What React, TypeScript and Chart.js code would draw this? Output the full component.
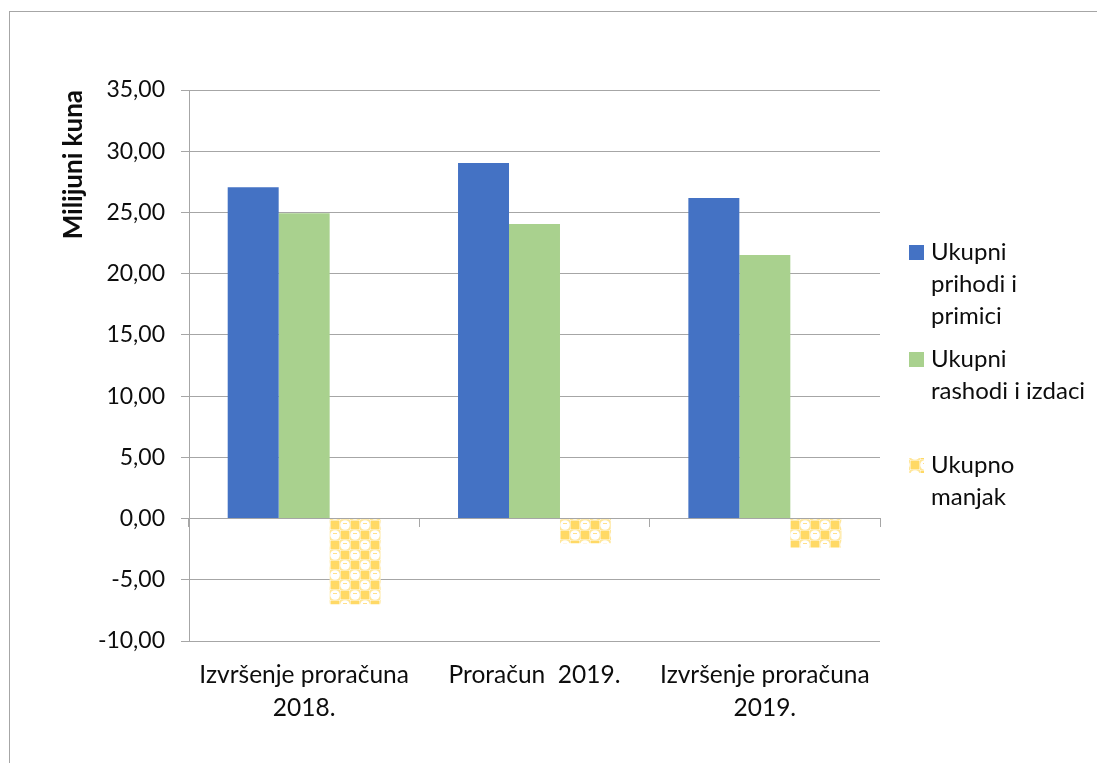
import React, { useEffect, useRef } from 'react';
import { Chart, registerables } from 'chart.js';

Chart.register(...registerables);

const categories: string[][] = [
  ['Izvršenje proračuna', '2018.'],
  ['Proračun  2019.'],
  ['Izvršenje proračuna', '2019.'],
];
const seriesNames = ['Ukupni prihodi i primici', 'Ukupni rashodi i izdaci', 'Ukupno manjak'];
const legendLines: string[][] = [
  ['Ukupni', 'prihodi i', 'primici'],
  ['Ukupni', 'rashodi i izdaci'],
  ['Ukupno', 'manjak'],
];
const prihodi = [27.06, 29.04, 26.18];
const rashodi = [24.93, 24.06, 21.53];
const manjak = [-6.99, -2.01, -2.37];
const yMin = -10;
const yMax = 35;
const yStep = 5;
const yTitle = 'Milijuni kuna';

const FONT = 'Lato';
const TEXT = '#0d0d0d';
const GRID = '#a6a6a6';

function makePattern(): CanvasPattern | string {
  const c = document.createElement('canvas');
  c.width = 20;
  c.height = 20;
  const g = c.getContext('2d');
  if (!g) return '#FFD966';
  g.fillStyle = '#ffffff';
  g.fillRect(0, 0, 20, 20);
  // light yellow background in circle cells
  g.fillStyle = '#FFE699';
  g.fillRect(0, 0, 10, 10);
  g.fillRect(10, 10, 10, 10);
  // solid squares
  g.fillStyle = '#FFD966';
  g.fillRect(10.5, 0.5, 9, 9);
  g.fillRect(0.5, 10.5, 9, 9);
  // white circles
  g.fillStyle = '#ffffff';
  g.beginPath();
  g.arc(5, 5, 4.8, 0, Math.PI * 2);
  g.fill();
  g.beginPath();
  g.arc(15, 15, 4.8, 0, Math.PI * 2);
  g.fill();
  g.fillStyle = '#FFE08A';
  g.fillRect(3, 3, 4, 1);
  g.fillRect(13, 13, 4, 1);
  return g.createPattern(c, 'repeat') || '#FFD966';
}

const legendPlugin = {
  id: 'sideLegend',
  afterDraw(chart: any) {
    const ctx: CanvasRenderingContext2D = chart.ctx;
    ctx.save();
    ctx.font = `24px ${FONT}`;
    ctx.textBaseline = 'middle';
    ctx.textAlign = 'left';
    const left = chart.chartArea.right + 29;
    const tops = [245, 352, 458];
    chart.data.datasets.forEach((ds: any, i: number) => {
      ctx.fillStyle = ds.backgroundColor;
      ctx.fillRect(left, tops[i], 15, 15);
      ctx.fillStyle = TEXT;
      legendLines[i].forEach((t, k) => {
        ctx.fillText(t, left + 22, tops[i] + 7.5 + k * 32);
      });
    });
    ctx.restore();
  },
};

export default function App() {
  const ref = useRef<HTMLCanvasElement | null>(null);

  useEffect(() => {
    if (!ref.current) return;
    const pattern = makePattern();
    const chart = new Chart(ref.current, {
      type: 'bar',
      data: {
        labels: categories,
        datasets: [
          { label: seriesNames[0], data: prihodi, backgroundColor: '#4472C4', borderWidth: 0 },
          { label: seriesNames[1], data: rashodi, backgroundColor: '#A9D18E', borderWidth: 0 },
          { label: seriesNames[2], data: manjak, backgroundColor: pattern as any, borderWidth: 0 },
        ],
      },
      options: {
        responsive: false,
        animation: false,
        devicePixelRatio: 1,
        layout: { padding: { left: 0, right: 217, top: 90, bottom: 0 } },
        datasets: { bar: { categoryPercentage: 0.664, barPercentage: 1 } },
        plugins: {
          legend: { display: false },
          tooltip: { enabled: false },
        },
        scales: {
          x: {
            type: 'category',
            position: 'bottom',
            grid: { display: false, drawTicks: false, tickLength: 0 },
            border: { display: false },
            ticks: {
              color: TEXT,
              font: { family: FONT, size: 24.5, lineHeight: 1.36 },
              padding: 17,
              maxRotation: 0,
              autoSkip: false,
            },
            afterFit: (s: any) => {
              s.height = 122;
            },
          },
          x0: {
            type: 'category',
            position: { y: 0 } as any,
            grid: { offset: true, drawOnChartArea: false, tickLength: 8, color: GRID, lineWidth: 1 },
            border: { display: true, color: GRID, width: 1 },
            ticks: { display: false },
          },
          y: {
            type: 'linear',
            min: yMin,
            max: yMax,
            ticks: {
              stepSize: yStep,
              color: TEXT,
              font: { family: FONT, size: 23 },
              padding: 16,
              callback: (v: any) => Number(v).toFixed(2).replace('.', ','),
            },
            grid: { color: GRID, lineWidth: 1, tickLength: 8 },
            border: { display: true, color: GRID, width: 1 },
            title: {
              display: true,
              text: yTitle,
              align: 'end',
              color: TEXT,
              font: { family: FONT, size: 26, weight: 'bold' },
              padding: { top: 58, bottom: 0 },
            },
            afterFit: (s: any) => {
              s.width = 189;
            },
          },
        },
      },
      plugins: [legendPlugin],
    });
    return () => chart.destroy();
  }, []);

  return (
    <div style={{ position: 'fixed', left: 0, top: 0, width: 1097, height: 763, background: '#fff', overflow: 'hidden' }}>
      <div
        style={{
          position: 'absolute',
          left: 9,
          top: 11,
          right: 0,
          bottom: 0,
          borderTop: `1px solid ${GRID}`,
          borderLeft: `1px solid ${GRID}`,
        }}
      />
      <canvas ref={ref} width={1097} height={763} style={{ position: 'absolute', left: 0, top: 0, width: 1097, height: 763 }} />
    </div>
  );
}
